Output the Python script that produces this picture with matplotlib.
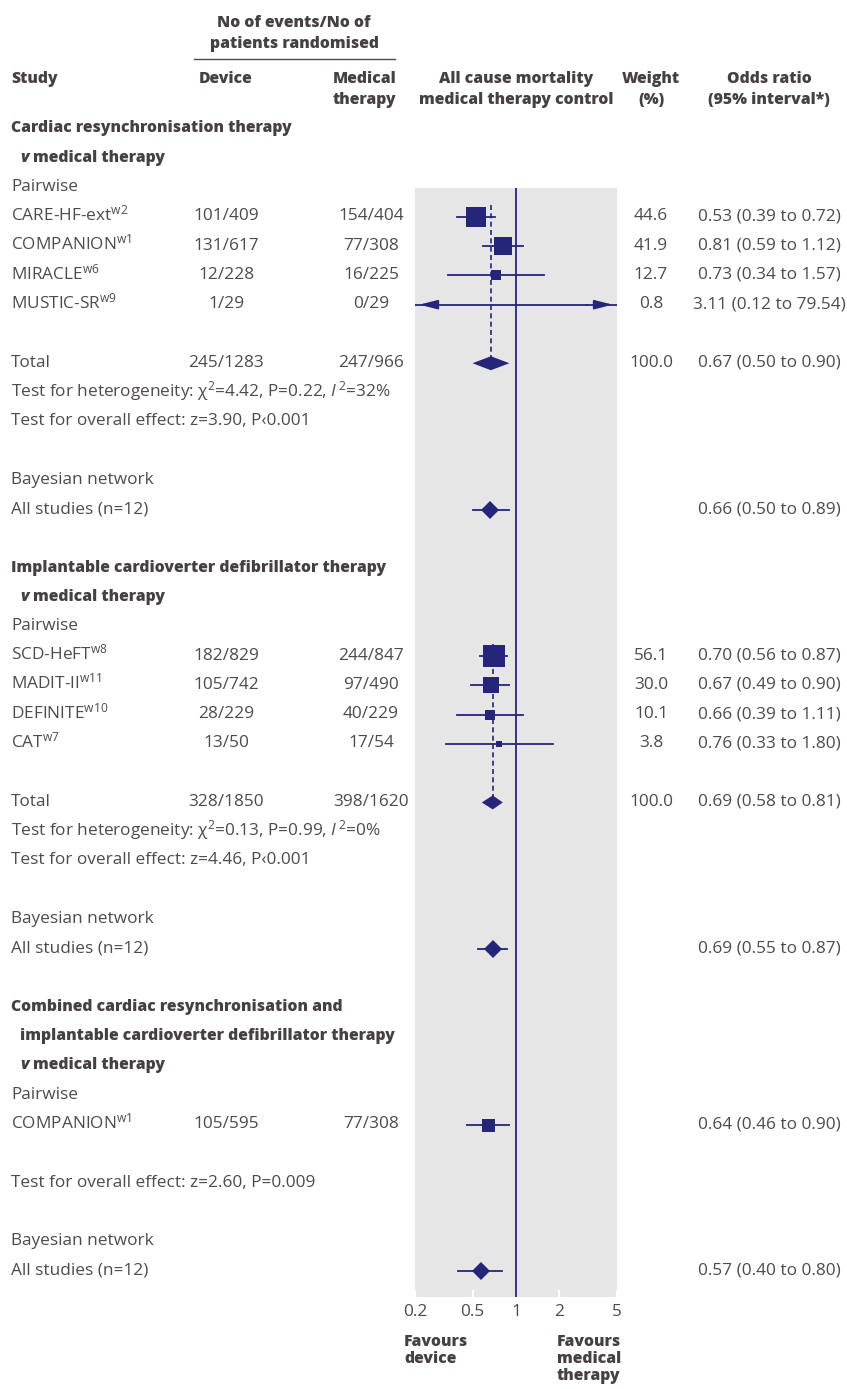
import matplotlib
matplotlib.use('Agg')
import matplotlib.pyplot as plt
import numpy as np

FONT = 'Open Sans'
plt.rcParams['font.family'] = [FONT, 'DejaVu Sans']
plt.rcParams['mathtext.fontset'] = 'custom'
plt.rcParams['mathtext.rm'] = FONT
plt.rcParams['mathtext.it'] = FONT + ':italic'
plt.rcParams['mathtext.bf'] = FONT + ':bold'

NAVY = '#25257a'
TXT = '#4f4a4b'
HEAD = '#464042'
PANEL = '#e6e6e6'

# cardiac resynchronisation therapy v medical therapy
crt_names = ['CARE-HF-ext', 'COMPANION', 'MIRACLE', 'MUSTIC-SR']
crt_refs = ['w2', 'w1', 'w6', 'w9']
crt_device = ['101/409', '131/617', '12/228', '1/29']
crt_medical = ['154/404', '77/308', '16/225', '0/29']
crt_weight = [44.6, 41.9, 12.7, 0.8]
crt_or = [0.53, 0.81, 0.73, 3.11]
crt_lo = [0.39, 0.59, 0.34, 0.12]
crt_hi = [0.72, 1.12, 1.57, 79.54]
crt_total = ['245/1283', '247/966', 0.67, 0.50, 0.90]
crt_het = ['4.42', '0.22', '32']
crt_effect = 'z=3.90, P‹0.001'
crt_bayes = [0.66, 0.50, 0.89]

# implantable cardioverter defibrillator therapy v medical therapy
icd_names = ['SCD-HeFT', 'MADIT-II', 'DEFINITE', 'CAT']
icd_refs = ['w8', 'w11', 'w10', 'w7']
icd_device = ['182/829', '105/742', '28/229', '13/50']
icd_medical = ['244/847', '97/490', '40/229', '17/54']
icd_weight = [56.1, 30.0, 10.1, 3.8]
icd_or = [0.70, 0.67, 0.66, 0.76]
icd_lo = [0.56, 0.49, 0.39, 0.33]
icd_hi = [0.87, 0.90, 1.11, 1.80]
icd_total = ['328/1850', '398/1620', 0.69, 0.58, 0.81]
icd_het = ['0.13', '0.99', '0']
icd_effect = 'z=4.46, P‹0.001'
icd_bayes = [0.69, 0.55, 0.87]

# combined CRT + ICD v medical therapy (single trial)
comb_name = 'COMPANION'
comb_ref = 'w1'
comb_device = '105/595'
comb_medical = '77/308'
comb_or = [0.64, 0.46, 0.90]
comb_effect = 'z=2.60, P=0.009'
comb_bayes = [0.57, 0.40, 0.80]

ticks = [0.2, 0.5, 1, 2, 5]
tick_labels = ['0.2', '0.5', '1', '2', '5']

FS = 12.4      # body text
HFS = 11.3     # bold headings
BOLD = 'heavy'

W, H = 847, 1389
fig = plt.figure(figsize=(W / 100, H / 100), dpi=100)
ax = fig.add_axes([0, 0, 1, 1])
ax.set_xlim(0, W)
ax.set_ylim(H, 0)
ax.axis('off')

# forest panel (log odds ratio scale), y in pixel rows
px0, px1, py0, py1 = 415, 617, 188, 1297
fa = fig.add_axes([px0 / W, 1 - py1 / H, (px1 - px0) / W, (py1 - py0) / H])
fa.set_xscale('log')
fa.set_xlim(0.2, 5)
fa.set_ylim(py1, py0)
fa.set_facecolor(PANEL)
for s in fa.spines.values():
    s.set_visible(False)
fa.set_yticks([])
fa.set_xticks(ticks)
fa.set_xticklabels(tick_labels)
fa.xaxis.set_minor_locator(matplotlib.ticker.NullLocator())
fa.tick_params(axis='x', direction='in', length=5, width=1.5, color='white',
               labelcolor=TXT, labelsize=FS, pad=5)
fa.axvline(1, color=NAVY, lw=1.3, zorder=2)

row0, step = 127, 29.28


def ry(k):
    return row0 + step * k


def txt(x, k, s, ha='left', bold=False, **kw):
    if bold:
        ax.text(x, ry(k) + 5.5, s, ha=ha, va='baseline', fontsize=HFS,
                color=HEAD, fontweight=BOLD, **kw)
    else:
        ax.text(x, ry(k) + 5.5, s, ha=ha, va='baseline', fontsize=FS,
                color=TXT, **kw)


def vline_text(k):
    ax.text(20, ry(k) + 5.5, 'v', ha='left', va='baseline', fontsize=HFS,
            color=HEAD, fontweight=BOLD, fontstyle='italic')
    ax.text(33, ry(k) + 5.5, 'medical therapy', ha='left', va='baseline',
            fontsize=HFS, color=HEAD, fontweight=BOLD)


def study_row(k, name, ref, dev, med, o, lo, hi, w=None, box=None):
    txt(11, k, name + r'$^{\mathregular{' + ref + '}}$')
    txt(226, k, dev, ha='center')
    txt(371, k, med, ha='center')
    if w is not None:
        txt(651, k, f'{w:.1f}', ha='center')
    txt(769, k, f'{o:.2f} ({lo:.2f} to {hi:.2f})', ha='center')
    y = ry(k) + 2
    xmin, xmax = fa.get_xlim()
    fa.plot([max(lo, xmin), min(hi, xmax)], [y, y], color=NAVY, lw=1.3, zorder=3)
    arrow = dict(arrowstyle='-|>,head_length=1.1,head_width=0.28', color=NAVY, lw=1.3)
    if lo < xmin:
        fa.annotate('', xy=(0.205, y), xytext=(0.3, y), arrowprops=arrow)
    if hi > xmax:
        fa.annotate('', xy=(4.88, y), xytext=(3.5, y), arrowprops=arrow)
    side = box if box is not None else 2.85 * np.sqrt(w)
    fa.plot(o, y, marker='s', ms=side * 0.72, color=NAVY, mec=NAVY, mew=0, zorder=4)


def total_row(k, vals):
    dev, med, o, lo, hi = vals
    txt(11, k, 'Total')
    txt(226, k, dev, ha='center')
    txt(371, k, med, ha='center')
    txt(651, k, '100.0', ha='center')
    txt(769, k, f'{o:.2f} ({lo:.2f} to {hi:.2f})', ha='center')
    y = ry(k) + 2
    h = 7
    fa.fill([lo, o, hi, o], [y, y - h, y, y + h], color=NAVY, lw=0, zorder=4)


def bayes_rows(k, vals):
    o, lo, hi = vals
    txt(11, k, 'Bayesian network')
    txt(11, k + 1, 'All studies (n=12)')
    txt(769, k + 1, f'{o:.2f} ({lo:.2f} to {hi:.2f})', ha='center')
    y = ry(k + 1) + 2
    fa.plot([lo, hi], [y, y], color=NAVY, lw=1.3, zorder=3)
    fa.plot(o, y, marker='D', ms=8.7, color=NAVY, mew=0, zorder=4)


def het_row(k, het):
    chi, p, i2 = het
    txt(11, k, 'Test for heterogeneity: χ$^{\\mathregular{2}}$=' + chi + ', P=' + p
        + ', $\\mathit{I}^{\\,\\mathregular{2}}$=' + i2 + '%')


def pairwise_block(k, names, refs, dev, med, w, o, lo, hi, total, het, effect):
    txt(11, k, 'Pairwise')
    for i in range(len(names)):
        study_row(k + 1 + i, names[i], refs[i], dev[i], med[i], o[i], lo[i], hi[i], w=w[i])
    kt = k + len(names) + 2
    total_row(kt, total)
    fa.plot([total[2], total[2]], [ry(k + 1) - 10, ry(kt)], color=NAVY, lw=1.2,
            ls=(0, (3, 2)), zorder=2.5)
    het_row(kt + 1, het)
    txt(11, kt + 2, 'Test for overall effect: ' + effect)
    return kt + 2


# header
hb = dict(va='baseline', fontsize=HFS, color=HEAD, fontweight=BOLD)
ax.text(294, 27, 'No of events/No of', ha='center', **hb)
ax.text(294, 48, 'patients randomised', ha='center', **hb)
ax.plot([194, 395], [59, 59], color=TXT, lw=1)
ax.text(11, 83, 'Study', ha='left', **hb)
ax.text(226, 83, 'Device', ha='center', **hb)
ax.text(396, 83, 'Medical', ha='right', **hb)
ax.text(396, 104, 'therapy', ha='right', **hb)
ax.text(516, 83, 'All cause mortality', ha='center', **hb)
ax.text(516, 104, 'medical therapy control', ha='center', **hb)
ax.text(651, 83, 'Weight', ha='center', **hb)
ax.text(651, 104, '(%)', ha='center', **hb)
ax.text(769, 83, 'Odds ratio', ha='center', **hb)
ax.text(769, 104, '(95% interval*)', ha='center', **hb)

# section 1
txt(11, 0, 'Cardiac resynchronisation therapy', bold=True)
vline_text(1)
k = pairwise_block(2, crt_names, crt_refs, crt_device, crt_medical, crt_weight,
                   crt_or, crt_lo, crt_hi, crt_total, crt_het, crt_effect)
bayes_rows(k + 2, crt_bayes)

# section 2
txt(11, 15, 'Implantable cardioverter defibrillator therapy', bold=True)
vline_text(16)
k = pairwise_block(17, icd_names, icd_refs, icd_device, icd_medical, icd_weight,
                   icd_or, icd_lo, icd_hi, icd_total, icd_het, icd_effect)
bayes_rows(k + 2, icd_bayes)

# section 3
txt(11, 30, 'Combined cardiac resynchronisation and', bold=True)
txt(20, 31, 'implantable cardioverter defibrillator therapy', bold=True)
vline_text(32)
txt(11, 33, 'Pairwise')
study_row(34, comb_name, comb_ref, comb_device, comb_medical, *comb_or, box=13)
txt(11, 36, 'Test for overall effect: ' + comb_effect)
bayes_rows(38, comb_bayes)

# favours labels
fav = dict(ha='left', va='top', fontsize=HFS, color=HEAD, fontweight=BOLD,
           linespacing=1.1)
ax.text(404, 1334, 'Favours\ndevice', **fav)
ax.text(557, 1334, 'Favours\nmedical\ntherapy', **fav)

fig.savefig('out.png', dpi=100)
